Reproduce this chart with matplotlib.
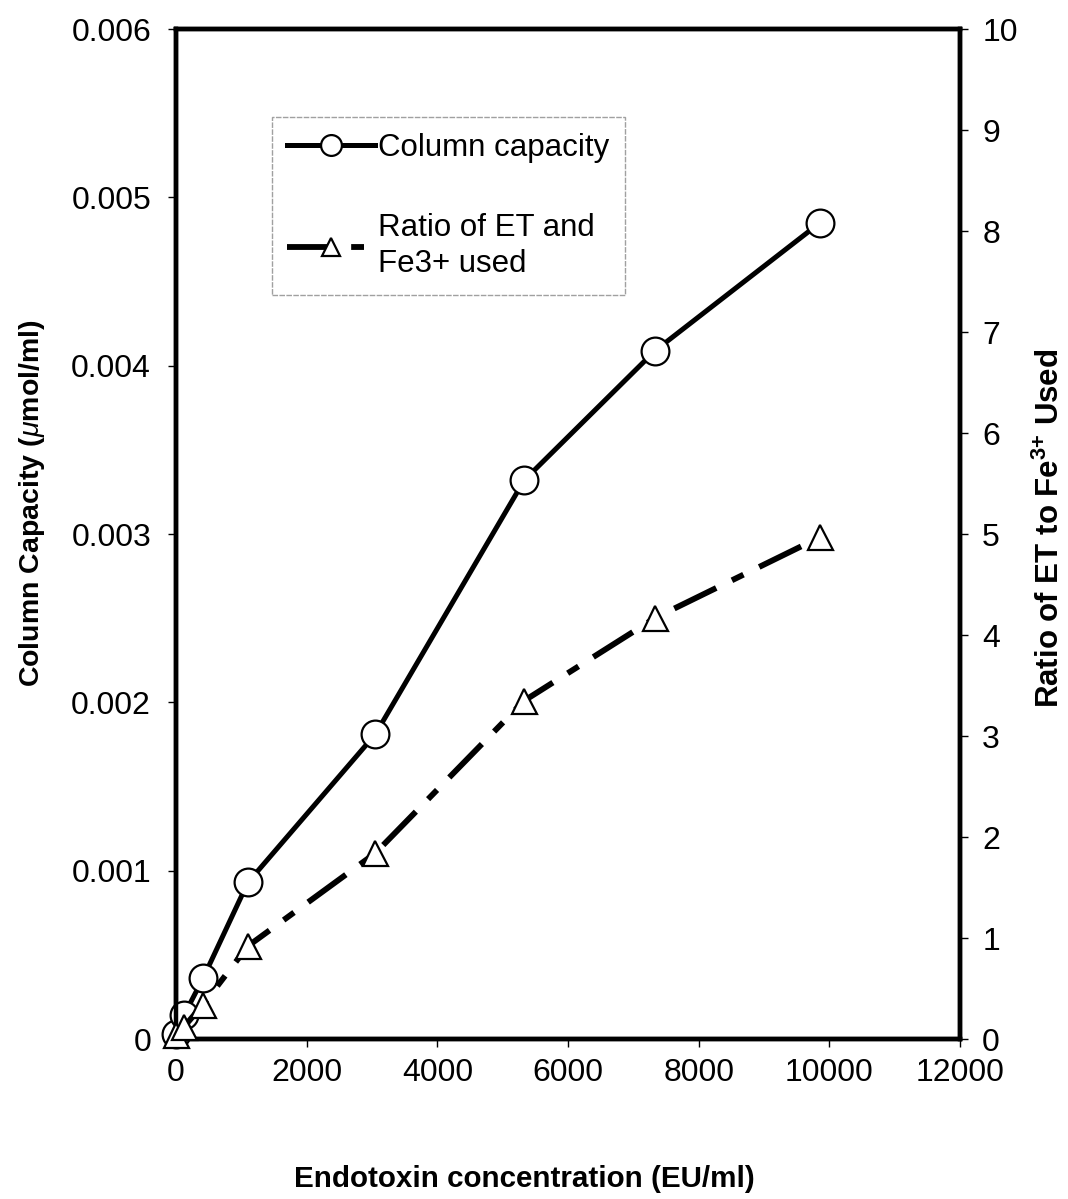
import matplotlib
matplotlib.use("Agg")
import matplotlib.pyplot as plt
from matplotlib.ticker import FuncFormatter

plt.rcParams['font.family'] = ['Liberation Sans', 'DejaVu Sans']
plt.rcParams['mathtext.fontset'] = 'custom'
plt.rcParams['mathtext.rm'] = 'Liberation Sans'
plt.rcParams['mathtext.bf'] = 'Liberation Sans:bold'
plt.rcParams['mathtext.it'] = 'Liberation Sans:italic'

# Data
endotoxin = [0, 120, 413, 1100, 3050, 5330, 7335, 9860]
column_capacity = [0.00003, 0.00014, 0.00036, 0.00093, 0.00181, 0.00332, 0.00409, 0.00485]
ratio_et_fe = [0.04, 0.12, 0.34, 0.92, 1.84, 3.35, 4.17, 4.97]

x_ticks = [0, 2000, 4000, 6000, 8000, 10000, 12000]
left_ticks = [0, 0.001, 0.002, 0.003, 0.004, 0.005, 0.006]
right_ticks = list(range(0, 11))

fig = plt.figure(figsize=(10.68, 11.99), dpi=100)
ax = fig.add_axes([0.1648, 0.1334, 0.7341, 0.8424])
ax2 = ax.twinx()

l1, = ax.plot(endotoxin, column_capacity, color='black', lw=3.6, marker='o',
              markersize=20, markerfacecolor='white', markeredgecolor='black',
              markeredgewidth=1.6, clip_on=False, zorder=3,
              label='Column capacity')
l2, = ax2.plot(endotoxin, ratio_et_fe, color='black', lw=4.2, marker='^',
               markersize=18, markerfacecolor='white', markeredgecolor='black',
               markeredgewidth=1.6, clip_on=False, zorder=3,
               dashes=(8, 3, 2.2, 3),
               label='Ratio of ET and\nFe3+ used')

ax.set_xlim(0, 12000)
ax.set_ylim(0, 0.006)
ax2.set_ylim(0, 10)
ax.set_xticks(x_ticks)
ax.set_yticks(left_ticks)
ax2.set_yticks(right_ticks)

def fmt_left(v, pos):
    return '0' if abs(v) < 1e-12 else f'{v:.3f}'
ax.yaxis.set_major_formatter(FuncFormatter(fmt_left))
ax.xaxis.set_major_formatter(FuncFormatter(lambda v, p: f'{int(round(v))}'))

for a in (ax, ax2):
    for s in a.spines.values():
        s.set_linewidth(3.2)
    a.tick_params(direction='out', length=6, width=1, labelsize=23)
ax.tick_params(axis='y', pad=12)
ax2.tick_params(axis='y', pad=10)
ax.tick_params(axis='x', pad=8)

ax.set_xlabel('Endotoxin concentration (EU/ml)', fontsize=21.3, fontweight='bold')
ax.xaxis.set_label_coords((524 - 176) / 784, -(1165 - 1039) / 1010)
ax.set_ylabel(r'Column Capacity ($\mathit{\mu}$mol/ml)', fontsize=20.5, fontweight='bold')
ax.yaxis.set_label_coords(-(176 - 47) / 784, (1039 - 503) / 1010)
ax2.set_ylabel(r'Ratio of ET to Fe$^{\mathbf{3{+}}}$ Used', fontsize=22.5, fontweight='bold',
               rotation=90)
ax2.yaxis.set_label_coords((1035 - 176) / 784, (1039 - 528) / 1010)

leg = ax.legend(handles=[l1, l2], loc='upper left', bbox_to_anchor=(0.122, 0.913),
                fontsize=22.5, frameon=True, fancybox=False, handlelength=2.8,
                handletextpad=0.1, labelspacing=1.6, borderpad=0.5, borderaxespad=0,
                markerscale=0.75)
leg.get_frame().set_edgecolor('#888888')
leg.get_frame().set_linewidth(1.0)
leg.get_frame().set_linestyle((0, (4, 1)))
for t in leg.get_texts():
    t.set_linespacing(1.3)

fig.savefig('out.png', dpi=100)
